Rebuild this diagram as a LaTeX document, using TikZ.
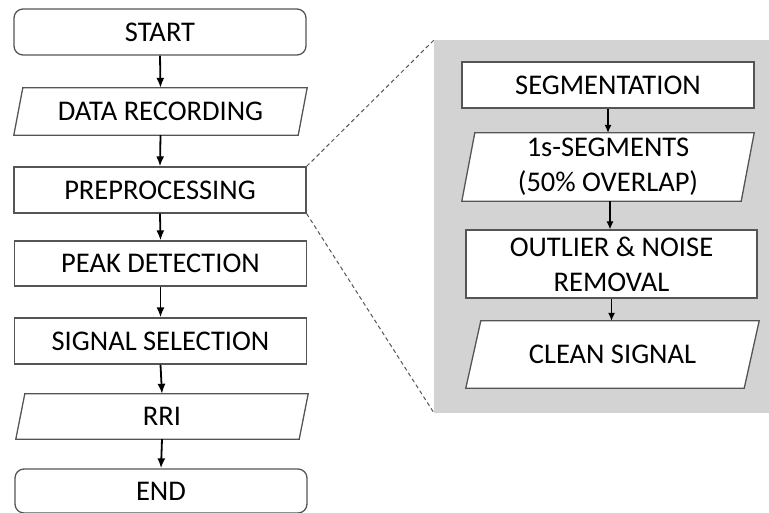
\documentclass[tikz,border=0pt]{standalone}
\usepackage{fontspec}
\setmainfont{Carlito}
\definecolor{edge}{HTML}{555555}
\definecolor{panel}{HTML}{D3D3D3}
\begin{document}
\begin{tikzpicture}[x=1pt,y=-1pt,
  every node/.style={font=\fontsize{28.5}{35}\selectfont, align=center, inner sep=0pt},
  procbox/.style={draw=edge, line width=1.3pt, fill=white, minimum width=292pt},
  termbox/.style={procbox, rounded corners=9pt},
  parabox/.style={minimum width=292pt},
  arr/.style={-{Latex[length=10pt,width=8pt]}, line width=1.8pt, black},
  arrs/.style={-{Latex[length=8pt,width=7pt]}, line width=1.1pt, black},
  zoomline/.style={dashed, dash pattern=on 4pt off 3pt, line width=1pt, edge},
  parashape/.style={draw=edge, line width=1.3pt, fill=white}
]
\usetikzlibrary{arrows.meta}
\useasboundingbox (0,0) rectangle (769,512);

% panel
\fill[panel] (434,40) rectangle (769,413);
\coordinate (ptl) at (434,40);
\coordinate (pbl) at (434,413);

% left column
\node[termbox, minimum height=46pt] (start) at (160,32) {START};
\node[parabox, minimum width=293pt, minimum height=47pt] (rec) at (160.5,111.5) {};
\draw[parashape] ([xshift=9pt]rec.north west) -- (rec.north east) -- ([xshift=-9pt]rec.south east) -- (rec.south west) -- cycle;
\node at (rec) {DATA RECORDING};
\node[procbox, minimum height=46pt] (pre) at (160,190) {PREPROCESSING};
\node[procbox, minimum height=45pt] (peak) at (160.5,263.5) {PEAK DETECTION};
\node[procbox, minimum height=46pt] (sig) at (160.5,341) {SIGNAL SELECTION};
\node[parabox, minimum width=292pt, minimum height=45pt] (rri) at (162,416.5) {};
\draw[parashape] ([xshift=9pt]rri.north west) -- (rri.north east) -- ([xshift=-9pt]rri.south east) -- (rri.south west) -- cycle;
\node at (rri) {RRI};
\node[termbox, minimum height=44pt] (end) at (161,491) {END};

\draw[arr] (start.south) -- (rec.north);
\draw[arr] (rec.south) -- (pre.north);
\draw[arr] (pre.south) -- (peak.north);
\draw[arr] (peak.south) -- (sig.north);
\draw[arr] (sig.south) -- (rri.north);
\draw[arr] (rri.south) -- (end.north);

% zoom lines
\draw[zoomline] (pre.north east) -- (ptl);
\draw[zoomline] (pre.south east) -- (pbl);

% right column
\node[procbox, minimum height=46pt] (seg) at (608,85) {SEGMENTATION};
\node[parabox, minimum width=292pt, minimum height=68pt] (segs) at (608,167) {};
\draw[parashape] ([xshift=13pt]segs.north west) -- (segs.north east) -- ([xshift=-13pt]segs.south east) -- (segs.south west) -- cycle;
\node at (segs) {1s-SEGMENTS\\(50\% OVERLAP)};
\node[procbox, minimum width=291pt, minimum height=68pt] (out) at (611.5,264) {OUTLIER \& NOISE\\REMOVAL};
\node[parabox, minimum width=293pt, minimum height=67pt] (clean) at (612.5,354.5) {};
\draw[parashape] ([xshift=15pt]clean.north west) -- (clean.north east) -- ([xshift=-15pt]clean.south east) -- (clean.south west) -- cycle;
\node at (clean) {CLEAN SIGNAL};

\draw[arrs] (seg.south) -- (seg.south |- segs.north);
\draw[arrs] ([xshift=2pt]segs.south) -- ([xshift=2pt]segs.south |- out.north);
\draw[arrs] (out.south) -- (out.south |- clean.north);
\end{tikzpicture}
\end{document}
